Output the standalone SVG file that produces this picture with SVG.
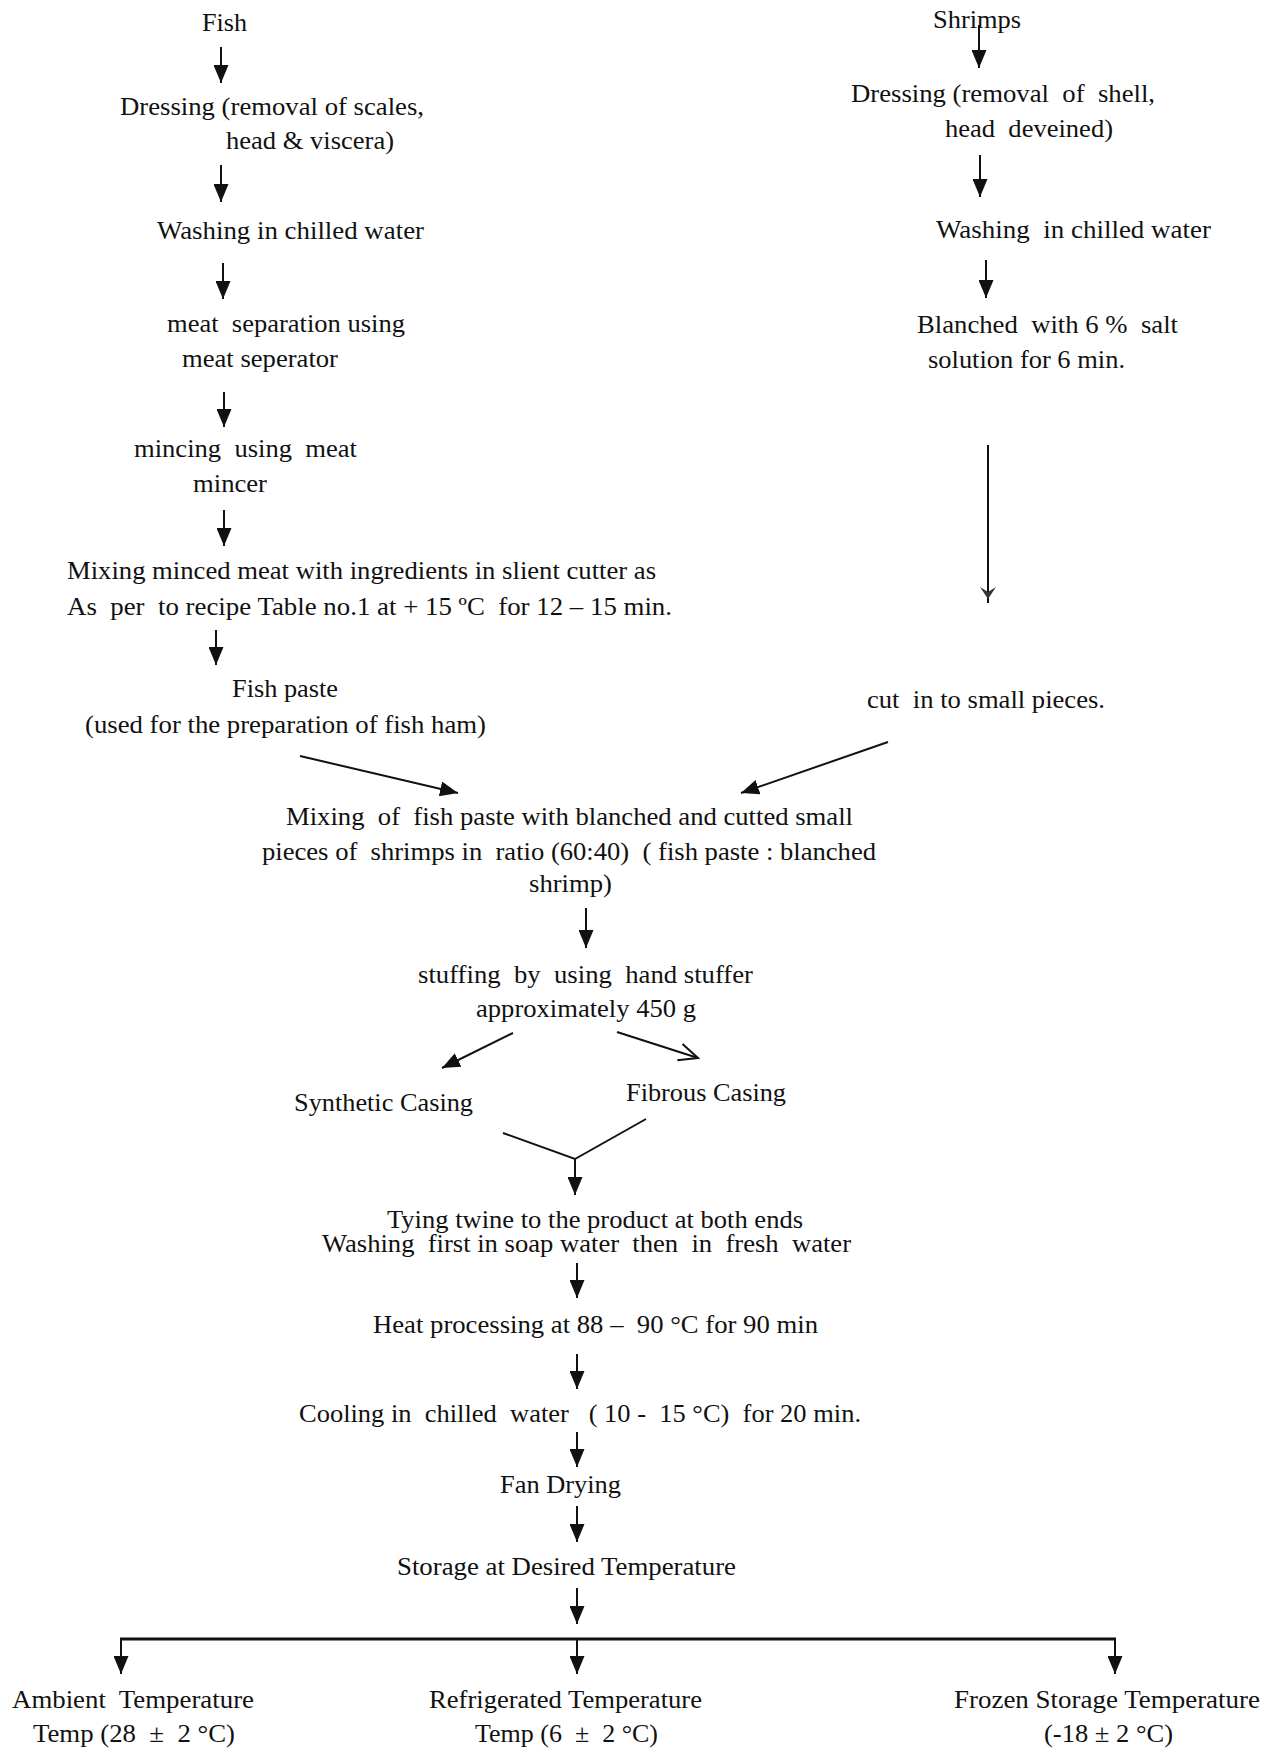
<svg xmlns="http://www.w3.org/2000/svg" width="1277" height="1748" viewBox="0 0 1277 1748">
<style>
text{font-family:"Liberation Serif","Times New Roman",serif;font-size:24.5px;fill:#111;white-space:pre}
.c{stroke:#111;stroke-width:2;fill:none}
.h{stroke:#111;stroke-width:3;fill:none}
</style>
<defs>
<marker id="ah" markerUnits="userSpaceOnUse" markerWidth="18" markerHeight="15" refX="18" refY="7.5" orient="auto">
<path d="M0,0 L18,7.5 L0,15 z" fill="#111"/>
</marker>
<marker id="ao" markerUnits="userSpaceOnUse" markerWidth="22" markerHeight="20" refX="20" refY="10" orient="auto">
<path d="M1,1.5 L20,10 L1,18.5" fill="none" stroke="#111" stroke-width="2"/>
</marker>
</defs>
<rect width="1277" height="1748" fill="#fff"/>
<g id="connectors">
<line class="c" x1="221" y1="47" x2="221" y2="83" marker-end="url(#ah)"/>
<line class="c" x1="221" y1="165" x2="221" y2="202" marker-end="url(#ah)"/>
<line class="c" x1="223" y1="263" x2="223" y2="299" marker-end="url(#ah)"/>
<line class="c" x1="224" y1="392" x2="224" y2="427" marker-end="url(#ah)"/>
<line class="c" x1="224" y1="510" x2="224" y2="546" marker-end="url(#ah)"/>
<line class="c" x1="216" y1="630" x2="216" y2="665" marker-end="url(#ah)"/>
<line class="c" x1="979" y1="25" x2="979" y2="68" marker-end="url(#ah)"/>
<line class="c" x1="980" y1="155" x2="980" y2="197" marker-end="url(#ah)"/>
<line class="c" x1="986" y1="260" x2="986" y2="298" marker-end="url(#ah)"/>
<line class="c" x1="988" y1="445" x2="988" y2="603"/>
<path d="M980,587 L988,592 L996,587 L988,599 z" fill="#333"/>
<line class="c" x1="300" y1="756" x2="458" y2="793" marker-end="url(#ah)"/>
<line class="c" x1="888" y1="742" x2="741" y2="793" marker-end="url(#ah)"/>
<line class="c" x1="586" y1="908" x2="586" y2="948" marker-end="url(#ah)"/>
<line class="c" x1="513" y1="1033" x2="442" y2="1068" marker-end="url(#ah)"/>
<line class="c" x1="617" y1="1032" x2="698" y2="1058" marker-end="url(#ao)"/>
<polyline class="c" points="503,1133 575,1159 646,1119"/>
<line class="c" x1="575" y1="1159" x2="575" y2="1195" marker-end="url(#ah)"/>
<line class="c" x1="577" y1="1263" x2="577" y2="1298" marker-end="url(#ah)"/>
<line class="c" x1="577" y1="1354" x2="577" y2="1389" marker-end="url(#ah)"/>
<line class="c" x1="577" y1="1432" x2="577" y2="1467" marker-end="url(#ah)"/>
<line class="c" x1="577" y1="1506" x2="577" y2="1542" marker-end="url(#ah)"/>
<line class="c" x1="577" y1="1588" x2="577" y2="1624" marker-end="url(#ah)"/>
<line class="h" x1="120" y1="1639" x2="1116" y2="1639"/>
<line class="c" x1="121" y1="1639" x2="121" y2="1674" marker-end="url(#ah)"/>
<line class="c" x1="577" y1="1639" x2="577" y2="1674" marker-end="url(#ah)"/>
<line class="c" x1="1115" y1="1639" x2="1115" y2="1674" marker-end="url(#ah)"/>
</g>
<g id="fish"><text x="202" y="31" textLength="45" lengthAdjust="spacingAndGlyphs">Fish</text></g>
<g id="dressing-fish"><text x="120" y="115" textLength="304" lengthAdjust="spacingAndGlyphs">Dressing (removal of scales,</text><text x="226" y="149" textLength="168" lengthAdjust="spacingAndGlyphs">head &amp; viscera)</text></g>
<g id="washing-fish"><text x="157" y="239" textLength="267" lengthAdjust="spacingAndGlyphs">Washing in chilled water</text></g>
<g id="meat-separation"><text x="167" y="332" textLength="238" lengthAdjust="spacingAndGlyphs">meat  separation using</text><text x="182" y="367" textLength="156" lengthAdjust="spacingAndGlyphs">meat seperator</text></g>
<g id="mincing"><text x="134" y="457" textLength="223" lengthAdjust="spacingAndGlyphs">mincing  using  meat</text><text x="193" y="492" textLength="74" lengthAdjust="spacingAndGlyphs">mincer</text></g>
<g id="mixing-minced"><text x="67" y="579" textLength="589" lengthAdjust="spacingAndGlyphs">Mixing minced meat with ingredients in slient cutter as</text><text x="67" y="615" textLength="605" lengthAdjust="spacingAndGlyphs">As  per  to recipe Table no.1 at + 15 ºC  for 12 – 15 min.</text></g>
<g id="fish-paste"><text x="232" y="697" textLength="106" lengthAdjust="spacingAndGlyphs">Fish paste</text><text x="85" y="733" textLength="401" lengthAdjust="spacingAndGlyphs">(used for the preparation of fish ham)</text></g>
<g id="shrimps"><text x="933" y="28" textLength="88" lengthAdjust="spacingAndGlyphs">Shrimps</text></g>
<g id="dressing-shrimp"><text x="851" y="102" textLength="304" lengthAdjust="spacingAndGlyphs">Dressing (removal  of  shell,</text><text x="945" y="137" textLength="168" lengthAdjust="spacingAndGlyphs">head  deveined)</text></g>
<g id="washing-shrimp"><text x="936" y="238" textLength="275" lengthAdjust="spacingAndGlyphs">Washing  in chilled water</text></g>
<g id="blanched"><text x="917" y="333" textLength="261" lengthAdjust="spacingAndGlyphs">Blanched  with 6 %  salt</text><text x="928" y="368" textLength="197" lengthAdjust="spacingAndGlyphs">solution for 6 min.</text></g>
<g id="cut"><text x="867" y="708" textLength="238" lengthAdjust="spacingAndGlyphs">cut  in to small pieces.</text></g>
<g id="mixing-paste"><text x="286" y="825" textLength="567" lengthAdjust="spacingAndGlyphs">Mixing  of  fish paste with blanched and cutted small</text><text x="262" y="860" textLength="614" lengthAdjust="spacingAndGlyphs">pieces of  shrimps in  ratio (60:40)  ( fish paste : blanched</text><text x="529" y="892" textLength="83" lengthAdjust="spacingAndGlyphs">shrimp)</text></g>
<g id="stuffing"><text x="418" y="983" textLength="335" lengthAdjust="spacingAndGlyphs">stuffing  by  using  hand stuffer</text><text x="476" y="1017" textLength="220" lengthAdjust="spacingAndGlyphs">approximately 450 g</text></g>
<g id="synthetic"><text x="294" y="1111" textLength="179" lengthAdjust="spacingAndGlyphs">Synthetic Casing</text></g>
<g id="fibrous"><text x="626" y="1101" textLength="160" lengthAdjust="spacingAndGlyphs">Fibrous Casing</text></g>
<g id="tying"><text x="387" y="1228" textLength="416" lengthAdjust="spacingAndGlyphs">Tying twine to the product at both ends</text><text x="322" y="1252" textLength="529" lengthAdjust="spacingAndGlyphs">Washing  first in soap water  then  in  fresh  water</text></g>
<g id="heat"><text x="373" y="1333" textLength="445" lengthAdjust="spacingAndGlyphs">Heat processing at 88 –  90 °C for 90 min</text></g>
<g id="cooling"><text x="299" y="1422" textLength="562" lengthAdjust="spacingAndGlyphs">Cooling in  chilled  water   ( 10 -  15 °C)  for 20 min.</text></g>
<g id="fan"><text x="500" y="1493" textLength="121" lengthAdjust="spacingAndGlyphs">Fan Drying</text></g>
<g id="storage"><text x="397" y="1575" textLength="339" lengthAdjust="spacingAndGlyphs">Storage at Desired Temperature</text></g>
<g id="ambient"><text x="12" y="1708" textLength="242" lengthAdjust="spacingAndGlyphs">Ambient  Temperature</text><text x="33" y="1742" textLength="202" lengthAdjust="spacingAndGlyphs">Temp (28  ±  2 °C)</text></g>
<g id="refrigerated"><text x="429" y="1708" textLength="273" lengthAdjust="spacingAndGlyphs">Refrigerated Temperature</text><text x="475" y="1742" textLength="183" lengthAdjust="spacingAndGlyphs">Temp (6  ±  2 °C)</text></g>
<g id="frozen"><text x="954" y="1708" textLength="306" lengthAdjust="spacingAndGlyphs">Frozen Storage Temperature</text><text x="1044" y="1742" textLength="129" lengthAdjust="spacingAndGlyphs">(-18 ± 2 °C)</text></g>
</svg>
